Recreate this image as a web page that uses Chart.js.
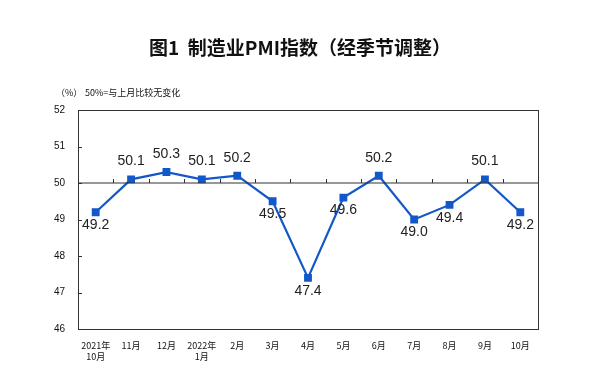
<!DOCTYPE html>
<html>
<head>
<meta charset="utf-8">
<script src="https://cdn.jsdelivr.net/npm/chart.js@4"></script>
<style>
  html, body { margin: 0; padding: 0; background: #fff; }
  #wrap { width: 600px; height: 387px; position: relative; }
</style>
</head>
<body>
<div id="wrap"><canvas id="pmiChart" width="600" height="387"></canvas></div>
<script>
const months = [['2021年', '10月'], '11月', '12月', ['2022年', '1月'], '2月', '3月', '4月', '5月', '6月', '7月', '8月', '9月', '10月'];
const pmiValues = [49.2, 50.1, 50.3, 50.1, 50.2, 49.5, 47.4, 49.6, 50.2, 49.0, 49.4, 50.1, 49.2];
const yTicks = [46, 47, 48, 49, 50, 51, 52];
const baseLine = 50;

const cjk = '"Noto Sans CJK SC", "Liberation Sans", sans-serif';

// title, unit note, 50 line, ticks and value labels
const decorations = {
    id: 'decorations',
    afterDraw(chart) {
        const ctx = chart.ctx;
        const area = chart.chartArea;
        const y = chart.scales.y;
        ctx.save();

        ctx.fillStyle = '#111';
        ctx.textAlign = 'center';
        ctx.textBaseline = 'middle';
        ctx.font = 'bold 19px ' + cjk;
        ctx.fillText('图1  制造业PMI指数（经季节调整）', 300, 48);

        ctx.font = '9px ' + cjk;
        ctx.textAlign = 'left';
        ctx.fillText('（%）', 56, 93);
        ctx.fillText('50%=与上月比较无变化', 85, 93);

        // line at 50
        const y50 = y.getPixelForValue(baseLine);
        ctx.strokeStyle = '#333';
        ctx.lineWidth = 1;
        ctx.beginPath();
        ctx.moveTo(area.left, y50);
        ctx.lineTo(area.right, y50);
        ctx.stroke();

        // category tick marks on the 50 line
        const step = (area.right - area.left) / months.length;
        ctx.beginPath();
        for (let i = 1; i < months.length; i++) {
            const px = Math.round(area.left + i * step) + 0.5;
            ctx.moveTo(px, y50);
            ctx.lineTo(px, y50 - 4);
        }
        // y ticks pointing inward
        yTicks.forEach(v => {
            const py = Math.round(y.getPixelForValue(v)) + 0.5;
            ctx.moveTo(area.left, py);
            ctx.lineTo(area.left + 4, py);
        });
        ctx.stroke();

        // value labels
        const meta = chart.getDatasetMeta(0);
        ctx.font = '14px "Liberation Sans", Arial, sans-serif';
        ctx.fillStyle = '#222';
        ctx.textAlign = 'center';
        meta.data.forEach((pt, i) => {
            const v = pmiValues[i];
            const off = v > baseLine ? -18 : 13;
            ctx.fillText(v.toFixed(1), pt.x, pt.y + off);
        });
        ctx.restore();
    }
};

new Chart(document.getElementById('pmiChart'), {
    type: 'line',
    data: {
        labels: months,
        datasets: [{
            data: pmiValues,
            borderColor: '#1358C8',
            backgroundColor: '#1358C8',
            borderWidth: 2.2,
            pointStyle: 'rect',
            pointRadius: 4,
            pointHoverRadius: 4,
            tension: 0
        }]
    },
    options: {
        responsive: false,
        animation: false,
        layout: { padding: { left: 0, right: 62, top: 110, bottom: 0 } },
        plugins: { legend: { display: false }, tooltip: { enabled: false } },
        scales: {
            x: {
                offset: true,
                grid: { display: false },
                border: { display: true, color: '#333', width: 1 },
                ticks: {
                    color: '#111',
                    font: { size: 9, family: cjk },
                    padding: 3,
                    maxRotation: 0,
                    autoSkip: false
                },
                afterFit(scale) { scale.height = 58; }
            },
            y: {
                min: 46,
                max: 52,
                afterBuildTicks(scale) { scale.ticks = yTicks.map(v => ({ value: v })); },
                grid: { display: false },
                border: { display: true, color: '#333', width: 1 },
                ticks: {
                    color: '#111',
                    font: { size: 10, family: '"Liberation Sans", Arial, sans-serif' },
                    padding: 5
                },
                afterFit(scale) { scale.width = 78; }
            },
            x2: {
                position: 'top',
                display: true,
                grid: { display: false },
                border: { display: true, color: '#333', width: 1 },
                ticks: { display: false },
                afterFit(scale) { scale.height = 0; }
            },
            y2: {
                position: 'right',
                display: true,
                grid: { display: false },
                border: { display: true, color: '#333', width: 1 },
                ticks: { display: false },
                afterFit(scale) { scale.width = 0; }
            }
        }
    },
    plugins: [decorations]
});
</script>
</body>
</html>
